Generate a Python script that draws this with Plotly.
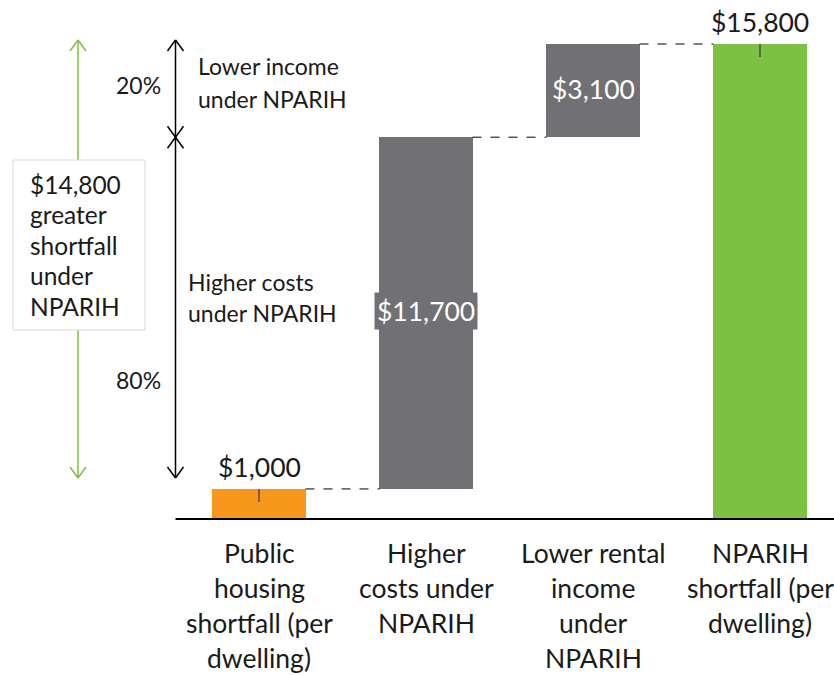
import plotly.graph_objects as go

# ---------------- data ----------------
categories = ["Public housing shortfall (per dwelling)", "Higher costs under NPARIH",
              "Lower rental income under NPARIH", "NPARIH shortfall (per dwelling)"]
category_lines = [["Public", "housing", "shortfall (per", "dwelling)"],
                  ["Higher", "costs under", "NPARIH"],
                  ["Lower rental", "income", "under", "NPARIH"],
                  ["NPARIH", "shortfall (per", "dwelling)"]]
values = [1000, 11700, 3100, 15800]
measures = ["absolute", "relative", "relative", "total"]
value_labels = ["$1,000", "$11,700", "$3,100", "$15,800"]
bar_colors = ["#F7981D", "#717074", "#717074", "#7DC142"]
difference_label = ["$14,800", "greater", "shortfall", "under", "NPARIH"]
share_labels = ["20%", "80%"]
component_labels = [["Lower income", "under NPARIH"], ["Higher costs", "under NPARIH"]]

# ---------------- geometry helpers ----------------
W, H = 834, 675
X0_PX, CAT_PX = 259, 167          # pixel of category 0, pixels per category
BASE_PX = 519                     # pixel row of value 0
PPU = 475 / 15800                 # pixels per unit value
PLOT_BOTTOM_PX = 549
X_RANGE = [-X0_PX / CAT_PX, (W - X0_PX) / CAT_PX]
Y_RANGE = [-(PLOT_BOTTOM_PX - BASE_PX) / PPU, BASE_PX / PPU]


def px_x(p):
    return (p - X0_PX) / CAT_PX


def px_y(p):
    return (BASE_PX - p) / PPU


FONT = "Lato, 'Open Sans', sans-serif"
TXT = "#1a1a1a"
BAR_W = 0.557

# waterfall bases
bases, tops = [], []
running = 0
for v, m in zip(values, measures):
    if m == "absolute":
        b = 0
        running = v
    elif m == "relative":
        b = running
        running += v
    else:
        b = 0
    bases.append(b)
    tops.append(b + (v if m != "total" else running))
heights = [t - b for t, b in zip(tops, bases)]
xs = list(range(len(values)))

fig = go.Figure()
fig.add_trace(go.Bar(x=xs, y=heights, base=bases, width=BAR_W,
                     marker=dict(color=bar_colors, line=dict(width=0)),
                     hoverinfo="skip", showlegend=False))

shapes = []
annotations = []

# baseline
shapes.append(dict(type="line", xref="x", yref="y", x0=-0.5, x1=X_RANGE[1], y0=0, y1=0,
                   line=dict(color="#000000", width=2)))

# dashed connectors
for i in range(len(values) - 1):
    lvl = tops[i]
    shapes.append(dict(type="line", xref="x", yref="y",
                       x0=i + BAR_W / 2, x1=i + 1 - BAR_W / 2, y0=lvl, y1=lvl,
                       line=dict(color="#000000", width=1, dash="dash")))

# value labels
for i, (lab, m) in enumerate(zip(value_labels, measures)):
    if m == "relative":
        annotations.append(dict(x=i, y=(bases[i] + tops[i]) / 2, xref="x", yref="y",
                                text=lab, showarrow=False, yshift=2,
                                font=dict(family=FONT, size=26.5, color="#ffffff"),
                                bgcolor=bar_colors[i], borderpad=2))
    else:
        annotations.append(dict(x=i, y=tops[i], xref="x", yref="y", text=lab,
                                showarrow=False, yanchor="bottom", yshift=4,
                                font=dict(family=FONT, size=26.5, color=TXT)))
        # small leader tick inside bar top
        shapes.append(dict(type="line", xref="x", yref="y", x0=i, x1=i,
                           ysizemode="pixel", yanchor=tops[i], y0=-13, y1=0,
                           line=dict(color="#404040", width=1.3)))

# category labels (one annotation per line)
for i, lines in enumerate(category_lines):
    for k, ln in enumerate(lines):
        annotations.append(dict(x=i, y=0, xref="x", yref="y", text=ln, showarrow=False,
                                yanchor="middle", yshift=-(34 + 35 * k),
                                font=dict(family=FONT, size=26.5, color=TXT)))


def v_arrow(x, y_lo, y_hi, color, width=1.5):
    out = [dict(type="line", xref="x", yref="y", x0=x, x1=x, y0=y_lo, y1=y_hi,
                line=dict(color=color, width=width))]
    for tip, d in ((y_hi, -1), (y_lo, 1)):
        for s in (-1, 1):
            out.append(dict(type="line", xref="x", yref="y",
                            xsizemode="pixel", xanchor=x, x0=0, x1=8 * s,
                            ysizemode="pixel", yanchor=tip, y0=0, y1=11 * d,
                            line=dict(color=color, width=width)))
    return out


GREEN = "#7DC142"
arrow_top = px_y(40)
arrow_bot = px_y(478)
mid_level = tops[1]

# green total-difference arrow
shapes += v_arrow(px_x(78), arrow_bot, arrow_top, GREEN)
# black component arrows
shapes += v_arrow(-0.5, mid_level, arrow_top, "#000000")
shapes += v_arrow(-0.5, arrow_bot, mid_level, "#000000")

# box around difference label
shapes.append(dict(type="rect", xref="x", yref="y", x0=px_x(13), x1=px_x(145),
                   y0=px_y(330), y1=px_y(160), fillcolor="#ffffff",
                   line=dict(color="#D9D9D9", width=1), layer="above"))
for k, ln in enumerate(difference_label):
    annotations.append(dict(x=px_x(28), y=px_y(184 + 30.5 * k), xref="x", yref="y",
                            text=ln, showarrow=False, xanchor="left", yanchor="middle",
                            font=dict(family=FONT, size=24.5, color=TXT)))

# percentages
for lab, py in zip(share_labels, (85, 380)):
    annotations.append(dict(x=px_x(163), y=px_y(py), xref="x", yref="y", text=lab,
                            showarrow=False, xanchor="right", yanchor="middle",
                            font=dict(family=FONT, size=23, color=TXT)))

# component labels
for lines, lx, ly, sp in zip(component_labels, (196, 186), (66, 282), (33, 31)):
    for k, ln in enumerate(lines):
        annotations.append(dict(x=px_x(lx), y=px_y(ly + sp * k), xref="x", yref="y",
                                text=ln, showarrow=False, xanchor="left", yanchor="middle",
                                font=dict(family=FONT, size=23, color=TXT)))

fig.update_layout(
    width=W, height=H,
    margin=dict(l=0, r=0, t=0, b=H - PLOT_BOTTOM_PX, pad=0),
    paper_bgcolor="#ffffff", plot_bgcolor="#ffffff",
    xaxis=dict(range=X_RANGE, visible=False, fixedrange=True),
    yaxis=dict(range=Y_RANGE, visible=False, fixedrange=True),
    shapes=shapes, annotations=annotations,
    bargap=0,
)

fig.write_html("out.html", config={"displayModeBar": False},
               post_script="document.body.style.margin='0';document.body.style.overflow='hidden';")
